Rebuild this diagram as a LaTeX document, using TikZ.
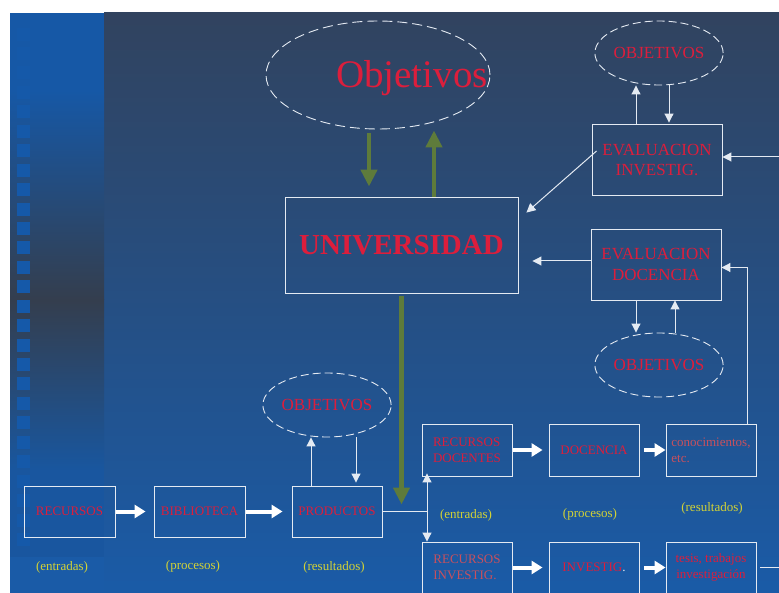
\documentclass[tikz,border=0pt]{standalone}
\usepackage{fontspec}
\setmainfont{Liberation Serif}
\usetikzlibrary{shapes.geometric,arrows.meta,calc}

\definecolor{bgtop}{HTML}{31435F}
\definecolor{bgmid}{HTML}{245189}
\definecolor{bgbot}{HTML}{1A5BA7}
\definecolor{stripblue}{HTML}{1658A6}
\definecolor{stripdark}{HTML}{343E4E}
\definecolor{sqblue}{HTML}{1559A9}
\definecolor{edge}{HTML}{E4EAF2}
\definecolor{txtred}{HTML}{DC1E3C}
\definecolor{txtpink}{HTML}{C8505E}
\definecolor{noteyellow}{HTML}{D2D236}
\definecolor{flowgreen}{HTML}{5E7B3B}

\begin{document}
\begin{tikzpicture}[x=1pt,y=-1pt,
  box/.style={draw=edge, line width=0.9pt, minimum width=91pt, minimum height=51pt,
    inner sep=0pt, text=txtred, align=left, font=\fontsize{13}{15.6}\selectfont},
  evalbox/.style={box, minimum width=130pt, minimum height=71pt, align=center,
    font=\fontsize{17}{20.7}\selectfont},
  oval/.style={ellipse, draw=edge, line width=0.9pt, dash pattern=on 8pt off 4pt,
    minimum width=124pt, minimum height=64pt, inner sep=0pt, text=txtred,
    font=\fontsize{17}{20}\selectfont},
  note/.style={text=noteyellow, inner sep=0pt, font=\fontsize{13}{15}\selectfont},
  link/.style={draw=edge, line width=1pt, -{Triangle[length=9pt,width=9pt]}},
  plainlink/.style={draw=edge, line width=1pt},
  feed/.style={draw=white, line width=4pt, -{Triangle[length=11pt,width=13pt]}},
  gflow/.style={draw=flowgreen, line width=4.5pt, -{Triangle[length=17pt,width=16pt]}}
]
\useasboundingbox (0,0) rectangle (779,593);
\fill[white] (0,0) rectangle (779,593);

% slide background
\shade[top color=bgtop, middle color=bgmid, bottom color=bgbot] (104,13) rectangle (779,593);
\fill[stripblue] (10,13) rectangle (104,90);
\shade[top color=stripblue, bottom color=stripdark] (10,90) rectangle (104,300);
\shade[top color=stripdark, bottom color=bgbot!95!black] (10,300) rectangle (104,470);
\fill[bgbot!95!black] (10,470) rectangle (104,557);
\fill[bgbot] (10,557) rectangle (104,593);
\foreach \k in {-1,...,25}
  \fill[sqblue] (17,{47+19.44*\k}) rectangle ++(13,13);

% top: objectives and university
\node[oval, minimum width=224pt, minimum height=108pt, dash pattern=on 10pt off 5pt] (obj) at (378,75) {};
\node[text=txtred, inner sep=0pt, font=\fontsize{39}{40}\selectfont] (objtxt) at (412,78) {Objetivos};
\node[box, minimum width=233pt, minimum height=96pt, align=center,
  font=\bfseries\fontsize{29}{30}\selectfont] (univ) at (401.5,245) {UNIVERSIDAD};

% evaluation blocks
\node[evalbox] (evi) at (657,160) {EVALUACION\\INVESTIG.};
\node[oval] (obja) at (659,53) {OBJETIVOS};
\node[evalbox] (evd) at (656,264.5) {EVALUACION\\DOCENCIA};
\node[oval] (objb) at (659,365) {OBJETIVOS};

% library chain
\node[box] (rec) at (69.5,511.5) {RECURSOS};
\node[box] (bib) at (199.5,511.5) {BIBLIOTECA};
\node[box, minimum width=90pt] (prod) at (337,511.5) {PRODUCTOS};
\node[oval] (objc) at (327,405) {OBJETIVOS};
\node[note] (n1) at (62,567) {(entradas)};
\node[note] (n2) at (193,566) {(procesos)};
\node[note] (n3) at (334,567) {(resultados)};

% teaching and research chains
\node[box, minimum width=90pt, minimum height=52pt] (rd) at (467,450) {RECURSOS\\DOCENTES};
\node[box, minimum width=90pt, minimum height=52pt] (doc) at (594,450) {DOCENCIA};
\node[box, minimum width=90pt, minimum height=52pt, text=txtpink] (con) at (711,450) {conocimientos,\\etc.};
\node[box, minimum width=90pt, text=txtpink] (ri) at (467,567.5) {RECURSOS\\INVESTIG.};
\node[box, minimum width=90pt] (inv) at (594,567.5) {\raisebox{-5pt}{INVESTIG{\color{edge}.}}};
\node[box, minimum width=90pt, align=center] (tes) at (711,567.5) {tesis, trabajos\\investigación};
\node[note] (n4) at (466,515) {(entradas)};
\node[note] (n5) at (590,514) {(procesos)};
\node[note] (n6) at (712,508) {(resultados)};

\coordinate (jn) at (427,511.5);
\coordinate (rin) at (779,157);
\coordinate (rout) at (779,567.5);

% green flows
\draw[gflow, shorten <=4pt, shorten >=10pt] (obj.south -| 369,0) -- (univ.north -| 369,0);
\draw[gflow] (univ.north -| 434,0) -- ([yshift=-1pt]obj.south -| 434,0);
\draw[gflow, shorten <=3pt, shorten >=7pt] (univ.south) -- (univ.south |- jn);

% evaluation links
\draw[link] (evi.north -| 636,0) -- (obja.south -| 636,0);
\draw[link] (obja.south -| 669,0) -- ([yshift=1.5pt]evi.north -| 669,0);
\draw[link] (rin) -- (evi.east |- rin);
\draw[link] ([xshift=5pt,yshift=9pt]evi.west) -- ([xshift=8pt,yshift=-16pt]univ.north east);
\coordinate (evdw) at ([yshift=3.5pt]evd.west);
\draw[link, shorten >=14pt] (evdw) -- (univ.east |- evdw);
\draw[link] (evd.south -| 636,0) -- (objb.north -| 636,0);
\draw[link] (objb.north -| 675,0) -- (evd.south -| 675,0);
\draw[link] (con.north -| 747,0) |- ([yshift=-3pt]evd.east);

% library links
\draw[feed, shorten <=1pt, shorten >=8pt] (rec.east) -- (bib.west);
\draw[feed, shorten <=1pt, shorten >=9pt] (bib.east) -- (prod.west);
\draw[link] (prod.north -| 311,0) -- (objc.south -| 311,0);
\draw[link] (objc.south -| 356,0) -- ([yshift=3pt]prod.north -| 356,0);
\draw[plainlink] (prod.east) -- (jn);
\draw[link] (jn) -- ([yshift=3pt]rd.south -| jn);
\draw[link] (jn) -- (ri.north -| jn);

% chain links
\draw[feed, shorten <=1pt, shorten >=6pt] (rd.east) -- (doc.west);
\draw[feed, shorten <=5pt] (doc.east) -- (con.west);
\draw[feed, shorten <=1pt, shorten >=6pt] (ri.east) -- (inv.west);
\draw[feed, shorten <=5pt] (inv.east) -- (tes.west);
\draw[plainlink, shorten <=4pt] (tes.east) -- (rout);
\end{tikzpicture}
\end{document}
